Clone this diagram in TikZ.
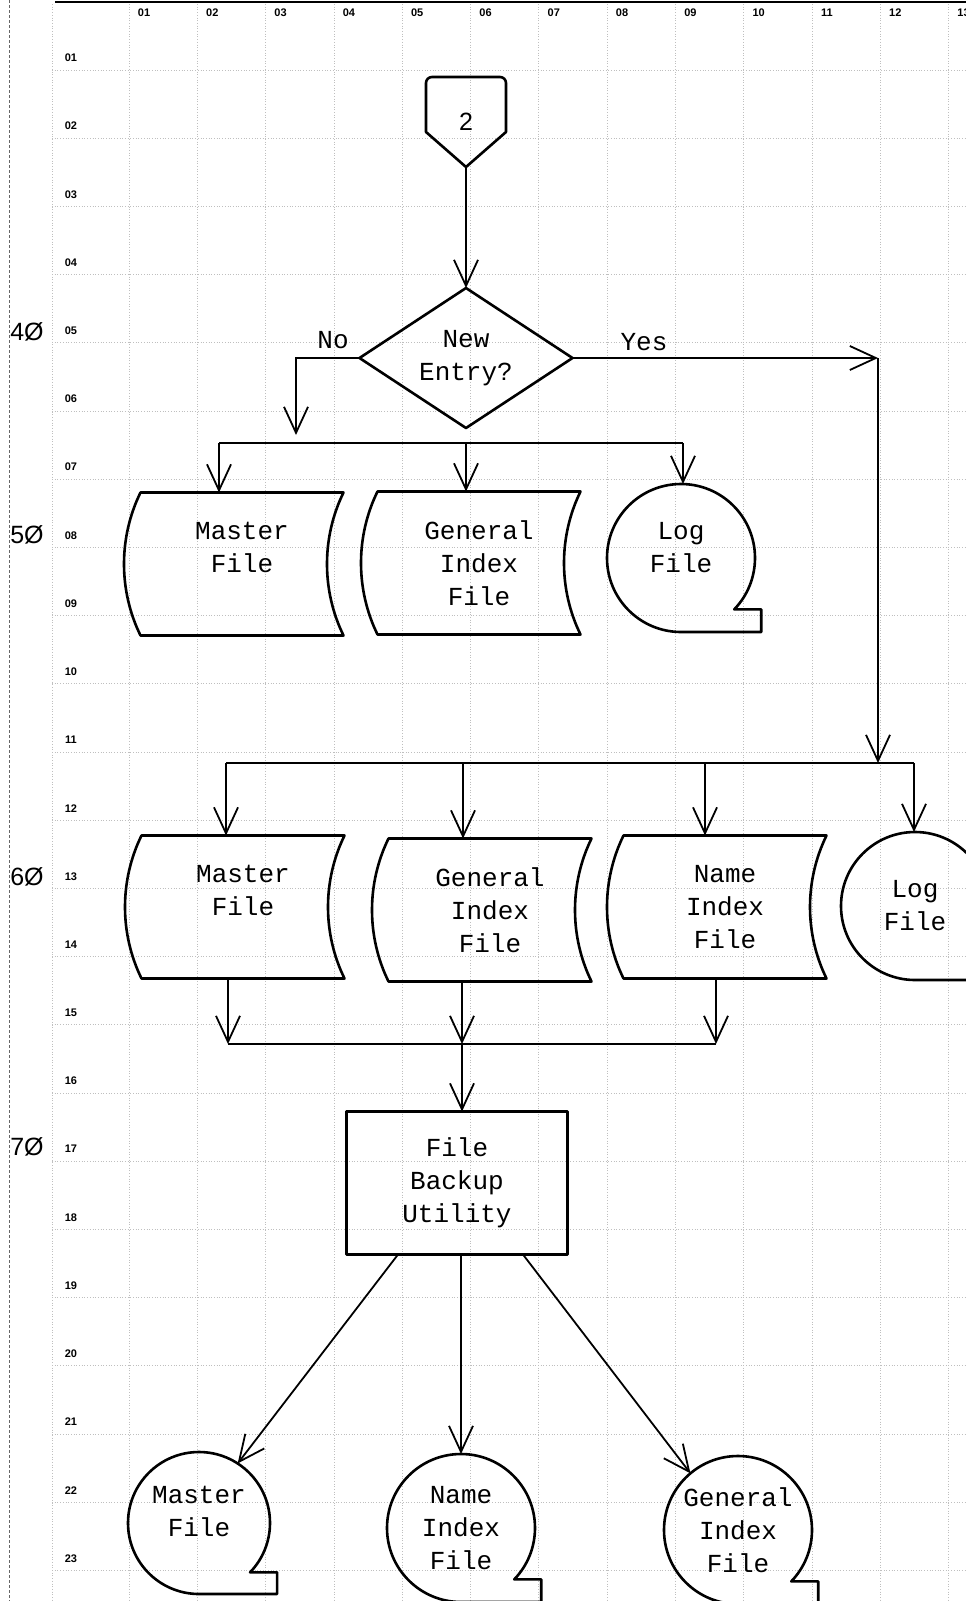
\documentclass[tikz,border=0pt]{standalone}
\usepackage{fontspec}
\setmonofont{Liberation Mono}
\setsansfont{Liberation Sans}
\usetikzlibrary{arrows.meta,shapes.geometric}
\newcommand{\typefont}{\ttfamily\fontsize{26}{33}\selectfont}
\newcommand{\formfont}{\sffamily\bfseries\fontsize{11}{11}\selectfont}
\newcommand{\markfont}{\sffamily\fontsize{25}{25}\selectfont}

\begin{document}
\begin{tikzpicture}[x=1pt,y=-1pt,>={Straight Barb[length=26pt,width=24pt]}]
  \tikzstyle{typed}=[font=\typefont,align=center,inner sep=0pt,outer sep=0pt]
  \tikzstyle{stored}=[typed,minimum width=203pt,minimum height=143pt]
  \tikzstyle{tape}=[typed,circle,minimum size=148pt]
  \tikzstyle{outline}=[line width=2.6pt,line join=round]
  \tikzstyle{flow}=[line width=1.8pt]
  \tikzstyle{gridline}=[black!25,dotted,line width=0.7pt]
  \tikzstyle{formlbl}=[font=\formfont,inner sep=0pt]
  \useasboundingbox (0,0) rectangle (966,1601);
  \clip (0,0) rectangle (966,1601);

  % coding form
  \foreach \i in {0,...,13}
    \draw[gridline] ({129+68.3*\i},4) -- ({129+68.3*\i},1601);
  \foreach \i in {0,...,22}
    \draw[gridline] (52,{70+68.2*\i}) -- (966,{70+68.2*\i});
  \draw[gridline] (52,4) -- (52,1601);
  \draw[black!60,dash pattern=on 3pt off 2pt,line width=1pt] (9,0) -- (9,1601);
  \draw[line width=2.5pt] (55,2) -- (966,2);
  \foreach \i in {1,...,13}
    \node[formlbl] (col\i) at ({144+68.3*(\i-1)},13) {\ifnum\i<10 0\fi\i};
  \foreach \i in {1,...,23}
    \node[formlbl] (row\i) at (71,{58+68.2*(\i-1)}) {\ifnum\i<10 0\fi\i};
  \node[font=\markfont] (m40) at (27,332) {4Ø};
  \node[font=\markfont] (m50) at (27,535) {5Ø};
  \node[font=\markfont] (m60) at (27,877) {6Ø};
  \node[font=\markfont] (m70) at (27,1147) {7Ø};

  % shapes
  \node[typed,font=\sffamily\fontsize{25}{25}\selectfont,minimum width=80pt,minimum height=90pt] (conn) at (466,122) {2};
  \draw[outline] (conn.south) -- ([yshift=-55pt]conn.north west) [rounded corners=6pt] -- (conn.north west) -- (conn.north east) [sharp corners] -- ([yshift=-55pt]conn.north east) -- cycle;
  \node[typed,diamond,draw,outline,aspect=1.5,minimum width=213pt,minimum height=140pt] (entry) at (466,358) {New\\Entry?};
  \node[typed] (nolbl) at (333,340) {No};
  \node[typed] (yeslbl) at (644,342) {Yes};

  \node[stored] (master1) at (242,564) {Master\\File\\\mbox{}};
  \node[stored] (genidx1) at (479,563) {General\\Index\\File};
  \node[tape] (log1) at (681,558) {Log\\File\\[-12pt]\mbox{}};

  \node[stored] (master2) at (243,907) {Master\\File\\\mbox{}};
  \node[stored] (genidx2) at (490,910) {General\\Index\\File};
  \node[stored] (nameidx2) at (725,907) {Name\\Index\\File};
  \node[tape] (log2) at (915,906) {Log\\File};

  \node[typed,draw,outline,minimum width=221pt,minimum height=143pt] (backup) at (457,1183) {File\\Backup\\Utility};

  \node[tape,minimum size=142pt] (master3) at (199,1523) {Master\\File\\[-10pt]\mbox{}};
  \node[tape] (nameidx3) at (461,1528) {Name\\Index\\File};
  \node[tape] (genidx3) at (738,1530) {General\\Index\\File};

  \foreach \n in {master1,genidx1,master2,genidx2,nameidx2}
    \draw[outline] (\n.north west) -- (\n.north east) .. controls +(-22,45) and +(-22,-45) .. (\n.south east) -- (\n.south west) .. controls +(-22,-45) and +(-22,45) .. cycle;
  \foreach \n/\r in {log1/74,log2/74,master3/71,nameidx3/74,genidx3/74}
    \draw[outline] (\n.south) arc[start angle=90,end angle=404,radius=\r] -- ++(27,0) |- (\n.south);

  % connectors
  \coordinate (nodrop) at (296,435);
  \coordinate (yescorner) at (878,358);
  \coordinate (bus1l) at (219,443);
  \coordinate (bus1r) at (683,443);
  \coordinate (bus2l) at (226,763);
  \coordinate (bus2g) at (463,763);
  \coordinate (bus2n) at (705,763);
  \coordinate (bus2r) at (914,763);
  \coordinate (bus3l) at (228,1044);
  \coordinate (bus3g) at (462,1044);
  \coordinate (bus3r) at (716,1044);

  \draw[flow,->] (conn.south) -- (entry.north);
  \draw[flow,->] (entry.west) -| (nodrop);
  \draw[flow,->] (entry.east) -- (yescorner);
  \draw[flow,->] (yescorner) -- (yescorner |- bus2l);

  \draw[flow] (bus1l) -- (bus1r);
  \draw[flow,->] (bus1l) -- (bus1l |- master1.north);
  \draw[flow,->] (entry.south |- bus1l) -- (entry.south |- genidx1.north);
  \draw[flow,->] (bus1r) -- (bus1r |- log1.north);

  \draw[flow] (bus2l) -- (bus2r);
  \draw[flow,->] (bus2l) -- (bus2l |- master2.north);
  \draw[flow,->] (bus2g) -- (bus2g |- genidx2.north);
  \draw[flow,->] (bus2n) -- (bus2n |- nameidx2.north);
  \draw[flow,->] (bus2r) -- (bus2r |- log2.north);

  \draw[flow,->] (bus3l |- master2.south) -- (bus3l);
  \draw[flow,->] (bus3g |- genidx2.south) -- (bus3g);
  \draw[flow,->] (bus3r |- nameidx2.south) -- (bus3r);
  \draw[flow] (bus3l) -- (bus3r);
  \draw[flow,->] (bus3g) -- (bus3g |- backup.north);

  \draw[flow,->] ([xshift=-59pt]backup.south) -- (master3.57);
  \draw[flow,->] (nameidx3 |- backup.south) -- (nameidx3.north);
  \draw[flow,->] ([xshift=66pt]backup.south) -- (genidx3.130);
\end{tikzpicture}
\end{document}
